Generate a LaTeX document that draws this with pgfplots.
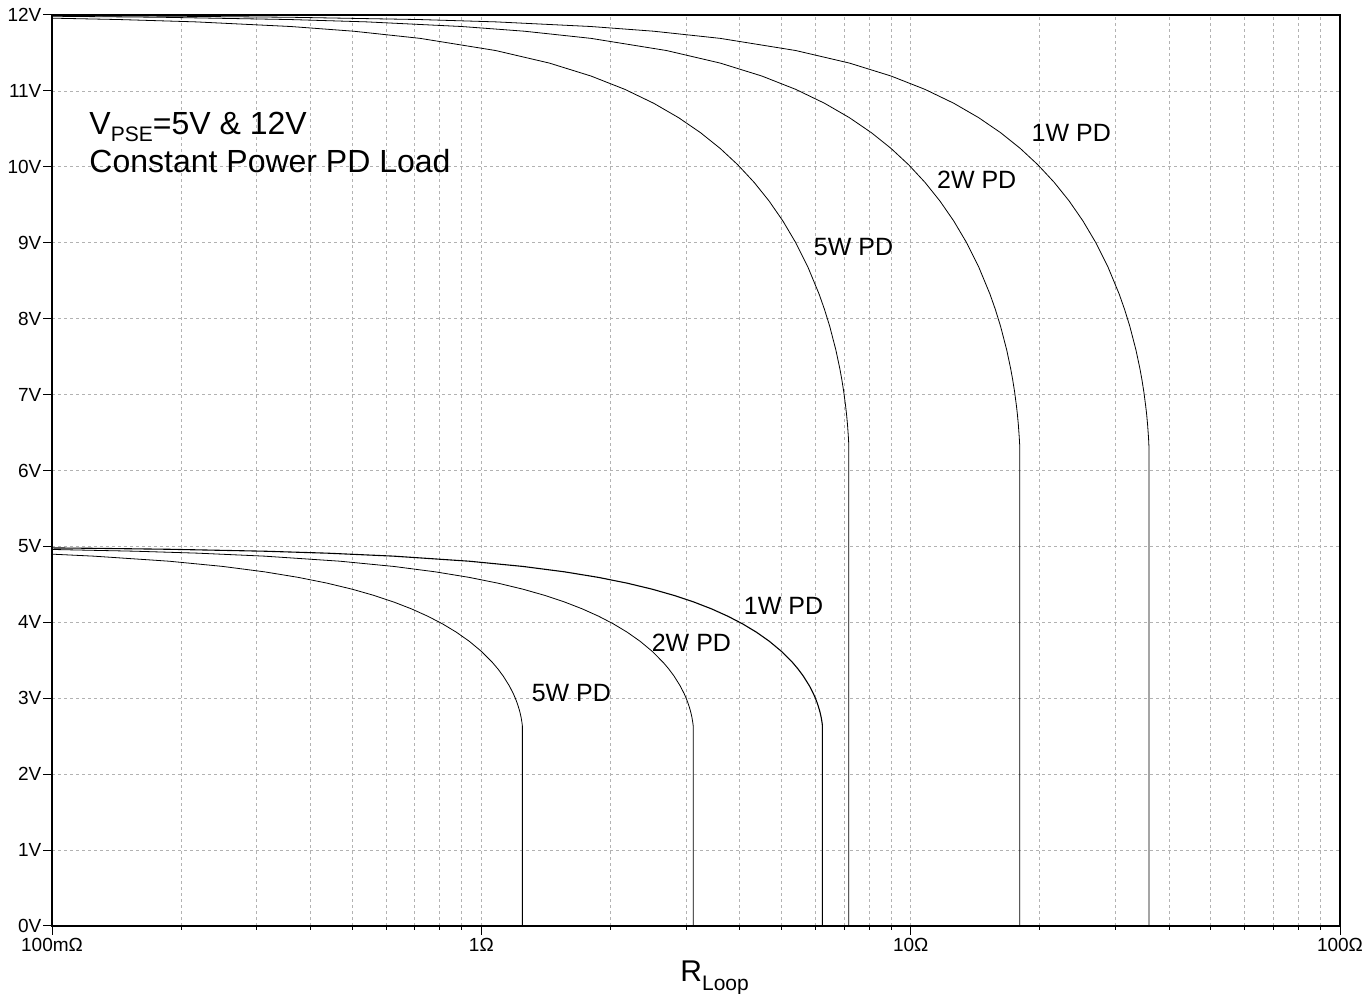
\documentclass[border=0pt]{standalone}
\usepackage{fontspec}
\setmainfont{Liberation Sans}
\usepackage{pgfplots}
\pgfplotsset{compat=1.18}

\begin{document}
\begin{tikzpicture}
\begin{axis}[
  at={(0,0)}, anchor=south west,
  scale only axis, width=644pt, height=455.5pt,
  set layers,
  xmode=log, xmin=0.1, xmax=100, ymin=0, ymax=12,
  log basis x=10,
  xtick={0.1,1,10,100},
  xticklabels={100mΩ,1Ω,10Ω,100Ω},
  minor xtick={0.2,0.3,0.4,0.5,0.6,0.7,0.8,0.9,2,3,4,5,6,7,8,9,20,30,40,50,60,70,80,90},
  ytick={0,1,...,12},
  yticklabels={0V,1V,2V,3V,4V,5V,6V,7V,8V,9V,10V,11V,12V},
  tick label style={font=\fontsize{9.5}{9.5}\selectfont},
  y tick label style={inner sep=0.6pt},
  x tick label style={inner sep=1.5pt},
  tick align=outside, tick pos=left,
  major tick length=4.5pt, minor tick length=2pt,
  every tick/.style={black, line width=0.5pt},
  xmajorgrids, xminorgrids, ymajorgrids,
  major grid style={gray!60, line width=0.4pt, dash pattern=on 1.5pt off 1.5pt},
  minor grid style={gray!60, line width=0.4pt, dash pattern=on 1.5pt off 1.5pt},
  x axis line style={black!60, line width=0.6pt},
  y axis line style={black, line width=0.6pt},
  clip=false,
  cycle list={{black, solid, mark=none, line width=0.55pt}},
]
% 12V supply
\addplot coordinates {(0.1,11.9917) (0.18,11.9850) (0.36,11.9699) (0.72,11.9397) (1.08,11.9093)
  (1.8,11.8481) (2.52,11.7862) (3.6,11.6921) (5.4,11.5317) (7.2,11.3666) (9,11.1962)
  (10.8,11.0200) (12.6,10.8374) (14.4,10.6476) (16.2,10.4497) (18,10.2426) (19.8,10.0249)
  (21.6,9.7947) (23.4,9.5497) (25.2,9.2863) (27,9.0) (28.8,8.6833) (30.6,8.3238) (31.5,8.1213)
  (32.4,7.8974) (33.48,7.5875) (34.2,7.3416) (34.56,7.2) (34.92,7.0392) (35.28,6.8485)
  (35.46,6.7348) (35.64,6.6000) (35.82,6.4243) (35.89,6.3286) (35.89,0)};
\addplot coordinates {(0.1,11.9833) (0.18,11.9699) (0.36,11.9397) (0.54,11.9093) (0.9,11.8481)
  (1.26,11.7862) (1.8,11.6921) (2.7,11.5317) (3.6,11.3666) (4.5,11.1962) (5.4,11.0200)
  (6.3,10.8374) (7.2,10.6476) (8.1,10.4497) (9,10.2426) (9.9,10.0249) (10.8,9.7947)
  (11.7,9.5497) (12.6,9.2863) (13.5,9.0) (14.4,8.6833) (15.3,8.3238) (15.75,8.1213)
  (16.2,7.8974) (16.74,7.5875) (17.1,7.3416) (17.28,7.2) (17.46,7.0392) (17.64,6.8485)
  (17.73,6.7348) (17.82,6.6000) (17.91,6.4243) (17.95,6.3286) (17.95,0)};
\addplot coordinates {(0.1,11.9582) (0.144,11.9397) (0.216,11.9093) (0.36,11.8481) (0.504,11.7862)
  (0.72,11.6921) (1.08,11.5317) (1.44,11.3666) (1.8,11.1962) (2.16,11.0200) (2.52,10.8374)
  (2.88,10.6476) (3.24,10.4497) (3.6,10.2426) (3.96,10.0249) (4.32,9.7947) (4.68,9.5497)
  (5.04,9.2863) (5.4,9.0) (5.76,8.6833) (6.12,8.3238) (6.3,8.1213) (6.48,7.8974)
  (6.696,7.5875) (6.84,7.3416) (6.912,7.2) (6.984,7.0392) (7.056,6.8485) (7.092,6.7348)
  (7.128,6.6000) (7.164,6.4243) (7.178,6.3286) (7.178,0) (8.5,0)};
% 5V supply
\addplot coordinates {(0.1,4.9799) (0.125,4.9749) (0.1875,4.9622) (0.3125,4.9367) (0.4375,4.9109)
  (0.625,4.8717) (0.9375,4.8049) (1.25,4.7361) (1.5625,4.6651) (1.875,4.5917) (2.1875,4.5156)
  (2.5,4.4365) (2.8125,4.3541) (3.125,4.2678) (3.4375,4.1771) (3.75,4.0811) (4.0625,3.9790)
  (4.375,3.8693) (4.6875,3.75) (5,3.6180) (5.3125,3.4682) (5.46875,3.3839) (5.625,3.2906)
  (5.8125,3.1614) (5.9375,3.0590) (6.0,3.0) (6.0625,2.9330) (6.125,2.8536) (6.15625,2.8062)
  (6.1875,2.7500) (6.21875,2.6768) (6.23125,2.6369) (6.23125,0)};
\addplot coordinates {(0.1,4.9597) (0.15625,4.9367) (0.21875,4.9109) (0.3125,4.8717) (0.46875,4.8049)
  (0.625,4.7361) (0.78125,4.6651) (0.9375,4.5917) (1.09375,4.5156) (1.25,4.4365)
  (1.40625,4.3541) (1.5625,4.2678) (1.71875,4.1771) (1.875,4.0811) (2.03125,3.9790)
  (2.1875,3.8693) (2.34375,3.75) (2.5,3.6180) (2.65625,3.4682) (2.734375,3.3839)
  (2.8125,3.2906) (2.90625,3.1614) (2.96875,3.0590) (3.0,3.0) (3.03125,2.9330)
  (3.0625,2.8536) (3.078125,2.8062) (3.09375,2.7500) (3.109375,2.6768) (3.115625,2.6369)
  (3.115625,0)};
\addplot coordinates {(0.1,4.8979) (0.125,4.8717) (0.1875,4.8049) (0.25,4.7361) (0.3125,4.6651)
  (0.375,4.5917) (0.4375,4.5156) (0.5,4.4365) (0.5625,4.3541) (0.625,4.2678) (0.6875,4.1771)
  (0.75,4.0811) (0.8125,3.9790) (0.875,3.8693) (0.9375,3.75) (1.0,3.6180) (1.0625,3.4682)
  (1.09375,3.3839) (1.125,3.2906) (1.1625,3.1614) (1.1875,3.0590) (1.2,3.0) (1.2125,2.9330)
  (1.225,2.8536) (1.23125,2.8062) (1.2375,2.7500) (1.24375,2.6768) (1.24625,2.6369)
  (1.24625,0) (3.55,0)};

\node[anchor=base west, font=\fontsize{16}{16}\selectfont, inner sep=0pt]
  at (axis cs:0.122,10.42) {V\raisebox{-0.4ex}{\fontsize{10.5}{10.5}\selectfont PSE}=5V \& 12V};
\node[anchor=base west, font=\fontsize{16}{16}\selectfont, inner sep=0pt]
  at (axis cs:0.122,9.93) {Constant Power PD Load};
\begin{scope}[every node/.style={anchor=base west, inner sep=0pt, font=\fontsize{12.5}{12.5}\selectfont}]
\node at (axis cs:19.1,10.33) {1W PD};
\node at (axis cs:11.5,9.72) {2W PD};
\node at (axis cs:5.94,8.83) {5W PD};
\node at (axis cs:4.08,4.10) {1W PD};
\node at (axis cs:2.49,3.62) {2W PD};
\node at (axis cs:1.308,2.96) {5W PD};
\end{scope}
\node[anchor=base west, inner sep=0pt, yshift=-28pt, font=\fontsize{15}{15}\selectfont]
  at (rel axis cs:0.4876,0) {R\raisebox{-0.55ex}{\fontsize{10.5}{10.5}\selectfont Loop}};
\end{axis}
\pgfresetboundingbox
\path[use as bounding box] (-26pt,-34pt) rectangle (657pt,463pt);
\end{tikzpicture}
\end{document}
